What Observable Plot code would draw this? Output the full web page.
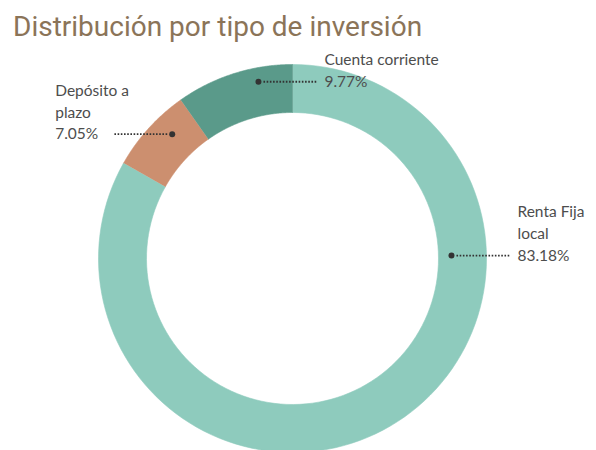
<!DOCTYPE html>
<html><head><meta charset="utf-8">
<script src="https://cdn.jsdelivr.net/npm/d3@7"></script>
<script src="https://cdn.jsdelivr.net/npm/@observablehq/plot@0.6"></script>
<style>
body{margin:0;background:#fff;}
#chart{width:596px;height:450px;position:relative;overflow:hidden;}
#title{height:50px;position:relative;}
#title span{position:absolute;left:13px;top:13px;font-family:Roboto,sans-serif;font-size:28px;line-height:1;color:#8b7458;white-space:nowrap;}
</style></head><body>
<div id="chart"><div id="title"><span id="t">Distribución por tipo de inversión</span></div></div>
<script>
// ---- data ----
const categories = ["Renta Fija local", "Depósito a plazo", "Cuenta corriente"];
const labelNames = ["Renta Fija\nlocal", "Depósito a\nplazo", "Cuenta corriente"];
const shares = [83.18, 7.05, 9.77];
const pctLabels = ["83.18%", "7.05%", "9.77%"];
const colors = ["#8ecbbd", "#cc8f6f", "#5a9a8a"];

// ---- layout ----
const W = 596, H = 400, cx = 292, cy = 208, R = 194, r0 = 146;
const labelT = [0.297, 0.65, 0.69];   // where along the slice the dot sits
const labelR = [159, 173, 180];       // dot radius
const side = [1, -1, 1];              // label side

const pie = d3.pie().sort(null).value(d => d)(shares);
const pt = (a, r) => [cx + r * Math.sin(a), cy - r * Math.cos(a)];

const sliceMarks = pie.map((p, i) => {
  const n = 120, pts = [];
  for (let k = 0; k <= n; k++) { const a = p.startAngle + (p.endAngle - p.startAngle) * k / n; const [x, y] = pt(a, R); pts.push({x, y}); }
  for (let k = n; k >= 0; k--) { const a = p.startAngle + (p.endAngle - p.startAngle) * k / n; const [x, y] = pt(a, r0); pts.push({x, y}); }
  return Plot.line(pts, {x: "x", y: "y", fill: colors[i], stroke: colors[i], strokeWidth: 0.6, curve: "linear"});
});

const labels = pie.map((p, i) => {
  const a = p.startAngle + (p.endAngle - p.startAngle) * labelT[i];
  const [x, y] = pt(a, labelR[i]);
  return {x, y, side: side[i], text: labelNames[i] + "\n" + pctLabels[i]};
});

const plot = Plot.plot({
  width: W, height: H,
  margin: 0,
  x: {domain: [0, W], range: [0, W], axis: null},
  y: {domain: [0, H], range: [0, H], axis: null},
  marks: [
    ...sliceMarks,
    Plot.link(labels, {x1: d => d.x + d.side * 5, x2: d => d.x + d.side * 59, y1: "y", y2: "y", stroke: "#333", strokeWidth: 1.8, strokeDasharray: "1.6,1.6"}),
    Plot.dot(labels, {x: "x", y: "y", r: 3, fill: "#333", stroke: null}),
    Plot.text(labels.filter(d => d.side > 0), {x: d => d.x + 66, y: "y", text: "text", textAnchor: "start", lineAnchor: "bottom", lineHeight: 1.39, dy: 5, fontSize: 15.5, fontFamily: "Lato, sans-serif", fill: "#4d4d4d"}),
    Plot.text(labels.filter(d => d.side < 0), {x: d => d.x - 117, y: "y", text: "text", textAnchor: "start", lineAnchor: "bottom", lineHeight: 1.39, dy: 5, fontSize: 15.5, fontFamily: "Lato, sans-serif", fill: "#4d4d4d"})
  ]
});
document.getElementById("chart").appendChild(plot);
</script>
</body></html>
